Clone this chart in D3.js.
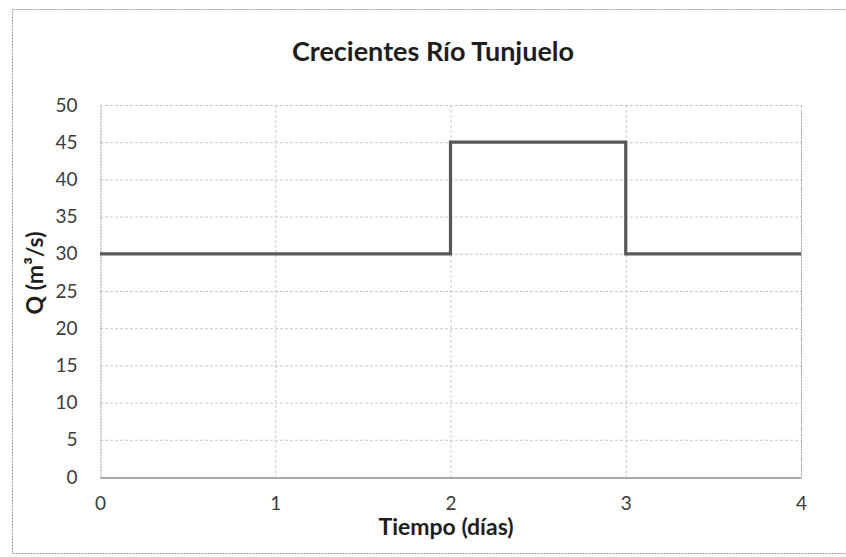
<!DOCTYPE html>
<html>
<head>
<meta charset="utf-8">
<script src="https://cdn.jsdelivr.net/npm/d3@7"></script>
<style>
  html, body { margin: 0; padding: 0; background: #fff; }
  svg { display: block; }
</style>
</head>
<body>
<svg id="chart" width="846" height="557"></svg>
<script>
// Caudal del río Tunjuelo en el tiempo (hidrograma escalonado)
const tiempoDias = [0, 2, 2, 3, 3, 4];
const caudal = [30, 30, 45, 45, 30, 30];
const xTicks = [0, 1, 2, 3, 4];
const yTicks = [0, 5, 10, 15, 20, 25, 30, 35, 40, 45, 50];

const svg = d3.select("#chart");
const W = 846, H = 557;
const plot = { left: 100, right: 801, top: 105, bottom: 477 };
const font = "Lato, 'Open Sans', sans-serif";

// Marco exterior del gráfico
svg.append("rect")
  .attr("x", 12.5).attr("y", 9.5)
  .attr("width", W + 20).attr("height", 544)
  .attr("fill", "#fff")
  .attr("stroke", "#9a9a9a")
  .attr("stroke-width", 1)
  .attr("stroke-dasharray", "2,1");

const x = d3.scaleLinear().domain([0, 4]).range([plot.left, plot.right]);
const y = d3.scaleLinear().domain([0, 50]).range([plot.bottom, plot.top]);

// Cuadrícula horizontal
svg.append("g")
  .selectAll("line")
  .data(yTicks.filter(d => d > 0))
  .join("line")
  .attr("x1", plot.left).attr("x2", plot.right)
  .attr("y1", d => y(d) + 0.5).attr("y2", d => y(d) + 0.5)
  .attr("stroke", "#c8c8c8")
  .attr("stroke-width", 1)
  .attr("stroke-dasharray", "3,2");

// Cuadrícula vertical
svg.append("g")
  .selectAll("line")
  .data(xTicks.filter(d => d > 0))
  .join("line")
  .attr("x1", d => x(d) + 0.5).attr("x2", d => x(d) + 0.5)
  .attr("y1", plot.top).attr("y2", plot.bottom)
  .attr("stroke", "#c8c8c8")
  .attr("stroke-width", 1)
  .attr("stroke-dasharray", "3,2");

// Eje vertical (izquierdo)
const yAxis = d3.axisLeft(y).tickValues(yTicks).tickFormat(d3.format("d"))
  .tickSize(0).tickPadding(23);
const gy = svg.append("g")
  .attr("transform", `translate(${plot.left + 0.5},0)`)
  .call(yAxis);
gy.select(".domain").attr("stroke", "#9a9a9a").attr("stroke-dasharray", "2,1");
gy.selectAll("text")
  .attr("font-family", font)
  .attr("font-size", 19)
  .attr("fill", "#3c3c3c");

// Eje horizontal (inferior)
const xAxis = d3.axisBottom(x).tickValues(xTicks).tickFormat(d3.format("d"))
  .tickSize(0).tickPadding(19);
const gx = svg.append("g")
  .attr("transform", `translate(0,${plot.bottom + 0.5})`)
  .call(xAxis);
gx.select(".domain").attr("stroke", "#8a8a8a").attr("stroke-width", 1.5);
gx.selectAll("text")
  .attr("font-family", font)
  .attr("font-size", 19)
  .attr("fill", "#3c3c3c");

// Borde derecho del área de trazado
svg.append("line")
  .attr("x1", plot.right + 0.5).attr("x2", plot.right + 0.5)
  .attr("y1", plot.top + 8).attr("y2", plot.bottom)
  .attr("stroke", "#b0b0b0")
  .attr("stroke-dasharray", "2,1");

// Serie de caudal
const pts = tiempoDias.map((t, i) => [t, caudal[i]]);
svg.append("path")
  .datum(pts)
  .attr("fill", "none")
  .attr("stroke", "#585858")
  .attr("stroke-width", 3.2)
  .attr("stroke-linejoin", "miter")
  .attr("d", d3.line().x(d => x(d[0])).y(d => y(d[1])));

// Título
svg.append("text")
  .attr("x", 433).attr("y", 61)
  .attr("text-anchor", "middle")
  .attr("font-family", font)
  .attr("font-weight", "bold")
  .attr("font-size", 27)
  .attr("fill", "#1e1e1e")
  .text("Crecientes Río Tunjuelo");

// Título del eje X
svg.append("text")
  .attr("x", 446).attr("y", 535)
  .attr("text-anchor", "middle")
  .attr("font-family", font)
  .attr("font-weight", "bold")
  .attr("font-size", 23)
  .attr("fill", "#1e1e1e")
  .text("Tiempo (días)");

// Título del eje Y
svg.append("text")
  .attr("transform", "translate(43,273) rotate(-90)")
  .attr("text-anchor", "middle")
  .attr("font-family", font)
  .attr("font-weight", "bold")
  .attr("font-size", 23)
  .attr("fill", "#1e1e1e")
  .text("Q (m³/s)");
</script>
</body>
</html>
